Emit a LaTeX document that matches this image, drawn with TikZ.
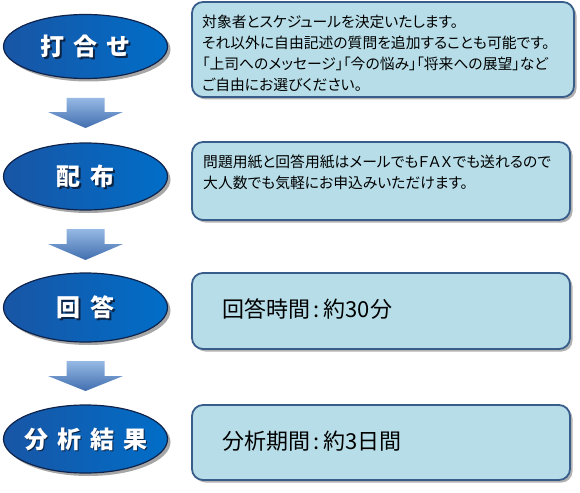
\documentclass[tikz,border=0pt]{standalone}
\usepackage{fontspec}
\newfontfamily\cjk{Noto Sans CJK JP}
\newfontfamily\cjkp[CharacterWidth=AlternateProportional]{Noto Sans CJK JP}
\usetikzlibrary{shapes.geometric,shadows}
\definecolor{boxfill}{RGB}{183,222,232}
\definecolor{boxedge}{RGB}{56,93,138}
\definecolor{elledge}{RGB}{15,35,75}
\definecolor{ellL}{RGB}{25,85,165}
\definecolor{ellM}{RGB}{8,50,120}
\definecolor{ellR}{RGB}{0,110,200}
\definecolor{arrT}{RGB}{150,185,228}
\definecolor{arrB}{RGB}{65,110,175}
\definecolor{lblshade}{RGB}{10,20,40}
\tikzset{
  stage/.style={ellipse, draw=elledge, line width=1.2pt, minimum width=164pt,
    left color=ellL, middle color=ellM, right color=ellR,
    drop shadow={shadow xshift=3pt,shadow yshift=-3pt,opacity=0.35,fill=black}},
  infobox/.style={rectangle, rounded corners=11pt, draw=boxedge, line width=1.8pt, fill=boxfill,
    drop shadow={shadow xshift=2.5pt,shadow yshift=-2.5pt,opacity=0.3,fill=black}},
  lbl/.style={text=white, font=\cjk\bfseries\fontsize{24}{24}\selectfont, inner sep=0pt},
  lblshadow/.style={lbl, text=lblshade, opacity=0.8},
  infotext/.style={anchor=west, align=left, inner sep=0pt, text=black, font=\cjkp\fontsize{14.8}{21}\selectfont},
  bigtext/.style={anchor=west, inner sep=0pt, text=black, font=\cjk\fontsize{22}{24}\selectfont},
  downarrow/.style={top color=arrT, bottom color=arrB, draw=none}
}
\begin{document}
\begin{tikzpicture}[x=1pt,y=1pt]
\useasboundingbox (0,0) rectangle (580,-492);

% stages
\node[stage, minimum height=64pt] (e1) at (85.5,-46.5) {};
\node[stage, minimum height=67pt] (e2) at (85.5,-176.5) {};
\node[stage, minimum height=69pt] (e3) at (85.5,-307.5) {};
\node[stage, minimum height=68pt] (e4) at (85.5,-439) {};

\node[lblshadow] (l1s) at ([shift={(1.6,-1.6)}]e1.center) {打\hspace{9pt}合\hspace{9pt}せ};
\node[lbl] (l1) at (e1.center) {打\hspace{9pt}合\hspace{9pt}せ};
\node[lblshadow] (l2s) at ([shift={(1.6,-1.6)}]e2.center) {配\hspace{10pt}布};
\node[lbl] (l2) at (e2.center) {配\hspace{10pt}布};
\node[lblshadow] (l3s) at ([shift={(1.6,-1.6)}]e3.center) {回\hspace{10pt}答};
\node[lbl] (l3) at (e3.center) {回\hspace{10pt}答};
\node[lblshadow] (l4s) at ([shift={(1.6,-1.6)}]e4.center) {分\hspace{9pt}析\hspace{9pt}結\hspace{9pt}果};
\node[lbl] (l4) at (e4.center) {分\hspace{9pt}析\hspace{9pt}結\hspace{9pt}果};

% down arrows
\shade[downarrow] (66.5,-98) -- (104.5,-98) -- (104.5,-112) -- (123,-112) -- (85.5,-128) -- (48,-112) -- (66.5,-112) -- cycle;
\shade[downarrow] (66.5,-229) -- (104.5,-229) -- (104.5,-244) -- (123,-244) -- (85.5,-260) -- (48,-244) -- (66.5,-244) -- cycle;
\shade[downarrow] (66.5,-361) -- (104.5,-361) -- (104.5,-376) -- (123,-376) -- (85.5,-391) -- (48,-376) -- (66.5,-376) -- cycle;

% info boxes
\node[infobox, minimum width=382pt, minimum height=95pt] (b1) at (383,-49.5) {};
\node[infobox, minimum width=378pt, minimum height=78pt] (b2) at (381,-181) {};
\node[infobox, minimum width=378pt, minimum height=76pt] (b3) at (381,-311) {};
\node[infobox, minimum width=378pt, minimum height=75pt] (b4) at (381,-442.5) {};

\node[infotext] (t1) at (202,-53.5) {対象者とスケジュールを決定いたします。\\それ以外に自由記述の質問を追加することも可能です。\\「上司へのメッセージ」「今の悩み」「将来への展望」など\\ご自由にお選びください。};
\node[infotext] (t2) at (203,-172) {問題用紙と回答用紙はメールでもＦＡＸでも送れるので\\大人数でも気軽にお申込みいただけます。};
\node[bigtext] (t3) at (222,-309) {回答時間\,:\,約30分};
\node[bigtext] (t4) at (222,-441) {分析期間\,:\,約3日間};
\end{tikzpicture}
\end{document}
